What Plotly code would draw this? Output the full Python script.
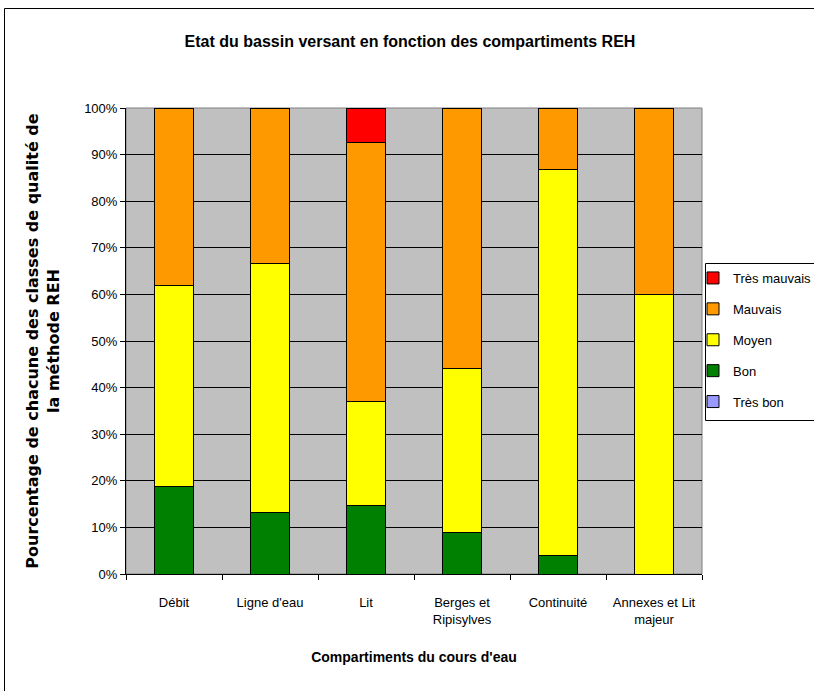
import plotly.graph_objects as go

categories = ["Débit", "Ligne d'eau", "Lit", "Berges et<br>Ripisylves", "Continuité", "Annexes et Lit<br>majeur"]
tres_bon = [0, 0, 0, 0, 0, 0]
bon = [18.8, 13.3, 14.8, 8.8, 3.9, 0]
moyen = [43.2, 53.4, 22.2, 35.3, 82.9, 60.0]
mauvais = [38.0, 33.3, 55.6, 55.9, 13.2, 40.0]
tres_mauvais = [0, 0, 7.4, 0, 0, 0]

series = [
    ("Très bon", tres_bon, "#9999FF"),
    ("Bon", bon, "#008000"),
    ("Moyen", moyen, "#FFFF00"),
    ("Mauvais", mauvais, "#FF9900"),
    ("Très mauvais", tres_mauvais, "#FF0000"),
]

W, H = 814, 691
L, R, T, B = 126, 112, 108, 117
pw = W - L - R
ph = H - T - B

fig = go.Figure()
for i, (name, vals, col) in enumerate(series):
    fig.add_trace(go.Bar(
        x=categories, y=vals, name=name, legendgroup=name,
        legendrank=len(series) - i,
        marker=dict(color=col, line=dict(color="black", width=1)),
    ))

arial = "Arial, Liberation Sans, sans-serif"

def px2x(p):
    return (p - L) / pw

def px2y(p):
    return (H - B - p) / ph

fig.update_layout(
    width=W, height=H,
    margin=dict(l=L, r=R, t=T, b=B, autoexpand=False),
    barmode="stack", bargap=0.6,
    paper_bgcolor="white", plot_bgcolor="#C0C0C0",
    font=dict(family=arial, size=13, color="black"),
    title=dict(text="<b>Etat du bassin versant en fonction des compartiments REH</b>",
               x=410 / W, xanchor="center", xref="container",
               y=1 - 41 / H, yanchor="middle", yref="container",
               font=dict(size=16, family=arial)),
    xaxis=dict(
        tickson="boundaries", ticks="outside", ticklen=5, tickcolor="black",
        showline=True, linecolor="black", linewidth=1, showgrid=False,
        tickangle=0,
        tickfont=dict(size=13, family=arial), ticklabelstandoff=16,
        title=dict(text="<b>Compartiments du cours d'eau</b>", font=dict(size=14, family=arial), standoff=26),
    ),
    yaxis=dict(
        range=[0, 100], tickvals=[0, 10, 20, 30, 40, 50, 60, 70, 80, 90, 100],
        ticktext=["0%", "10%", "20%", "30%", "40%", "50%", "60%", "70%", "80%", "90%", "100%"],
        ticks="outside", ticklen=5, tickcolor="black",
        showline=True, linecolor="black", linewidth=1,
        showgrid=True, gridcolor="black", gridwidth=1, zeroline=False,
        tickfont=dict(size=13, family=arial),
        title=dict(text="<b>Pourcentage de chacune des classes de qualité de<br>la méthode REH</b>",
                   font=dict(size=16, family="DejaVu Sans, sans-serif"), standoff=20),
    ),
    legend=dict(
        x=px2x(693), xanchor="left", y=px2y(263), yanchor="top",
        traceorder="grouped", tracegroupgap=11,
        borderwidth=0, bgcolor="rgba(0,0,0,0)",
        font=dict(size=13, family=arial),
        itemwidth=30,
    ),
    shapes=[
        dict(type="rect", xref="paper", yref="paper",
             x0=0, x1=1, y0=0, y1=1, line=dict(color="#808080", width=1), layer="below"),
        dict(type="rect", xref="paper", yref="paper",
             x0=px2x(4.5), x1=px2x(830), y0=px2y(710), y1=px2y(8.5),
             line=dict(color="black", width=1), layer="above"),
        dict(type="rect", xref="paper", yref="paper",
             x0=px2x(705.5), x1=px2x(830), y0=px2y(420.5), y1=px2y(263.5),
             line=dict(color="black", width=1), layer="above"),
    ],
)

fig.write_html("out.html", config={"displayModeBar": False},
               post_script="document.body.style.margin='0';document.body.style.overflow='hidden';")
